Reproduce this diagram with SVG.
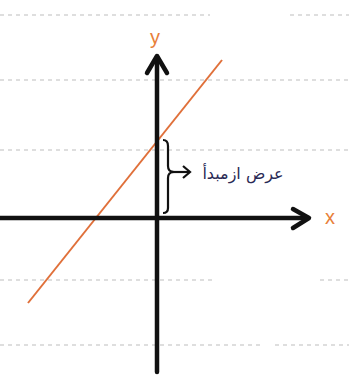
<svg xmlns="http://www.w3.org/2000/svg" width="349" height="382" viewBox="0 0 349 382">
<style>
.grid{stroke:#d4d4d4;stroke-width:1.5;stroke-dasharray:4 4;fill:none}
.axis{stroke:#111;stroke-width:4.5;fill:none;stroke-linecap:round;stroke-linejoin:round}
.lbl{fill:#e8803a;font-family:"Liberation Sans",sans-serif;font-size:20px;text-anchor:middle}
.ar{fill:#2a2a55;font-family:"DejaVu Sans","Noto Sans",sans-serif;font-size:16px}
</style>
<rect width="349" height="382" fill="#fff"/>
<g id="grid">
<line class="grid" x1="0" y1="15" x2="210" y2="15"/>
<line class="grid" x1="290" y1="15" x2="349" y2="15"/>
<line class="grid" x1="0" y1="80" x2="349" y2="80"/>
<line class="grid" x1="0" y1="150" x2="349" y2="150"/>
<line class="grid" x1="0" y1="280" x2="215" y2="280"/>
<line class="grid" x1="320" y1="280" x2="349" y2="280"/>
<line class="grid" x1="0" y1="345" x2="260" y2="345"/>
<line class="grid" x1="275" y1="345" x2="349" y2="345"/>
</g>
<g id="connectors">
<line x1="28" y1="303" x2="222" y2="60" stroke="#e0703a" stroke-width="2"/>
<g id="y-axis">
<line class="axis" x1="157" y1="57" x2="157" y2="372"/>
<polyline class="axis" points="147,73 157,56 167,73"/>
</g>
<g id="x-axis">
<line class="axis" x1="0" y1="218" x2="308" y2="218"/>
<polyline class="axis" points="293,209 309,218 293,228"/>
</g>
<g id="bracket">
<path d="M163,140 Q168,140 168,146 L168,166 Q168,172 174,172 Q168,172 168,178 L168,208 Q168,213 163,213" fill="none" stroke="#111" stroke-width="2.2"/>
<line x1="172" y1="172" x2="189" y2="172" stroke="#111" stroke-width="2.2"/>
<polyline points="183,166 190,172 183,178" fill="none" stroke="#111" stroke-width="2.2"/>
</g>
</g>
<g id="label-y"><text class="lbl" x="155" y="44">y</text></g>
<g id="label-x"><text class="lbl" x="330" y="224">x</text></g>
<g id="label-intercept"><text class="ar" x="243" y="179" text-anchor="middle" direction="rtl">عرض ازمبدأ</text></g>
</svg>
